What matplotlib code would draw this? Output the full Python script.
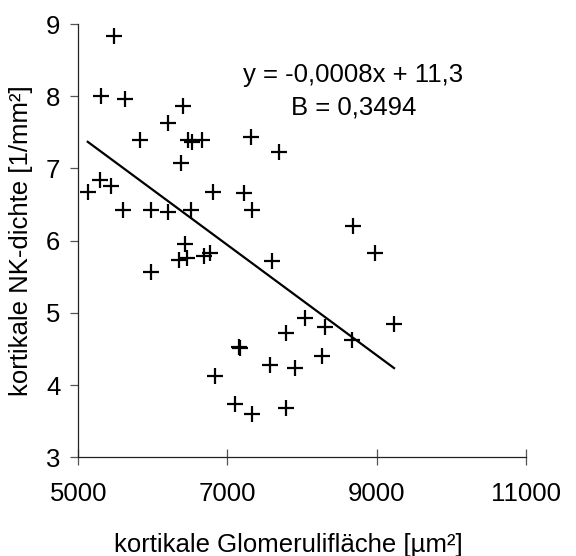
import numpy as np
import matplotlib
matplotlib.use("Agg")
import matplotlib.pyplot as plt

plt.rcParams['font.family'] = ['Liberation Sans', 'DejaVu Sans']

# cortical glomerular area [µm²] vs. cortical NK density [1/mm²]
glom_area = [5480, 5300, 5630, 6400, 6207, 5827, 6475, 6520, 6655, 7316,
             7691, 6373, 5291, 5126, 5434, 6811, 7222, 5604, 5970, 6207,
             6507, 7329, 6431, 6354, 6453, 5970, 6686, 6766, 7593, 8040,
             7785, 7160, 7168, 7571, 7910, 6833, 7101, 7325, 7785, 8688,
             8983, 8308, 8666, 9234, 8272]
nk_density = [8.84, 8.00, 7.96, 7.87, 7.63, 7.39, 7.39, 7.37, 7.39, 7.44,
              7.23, 7.08, 6.84, 6.68, 6.76, 6.68, 6.66, 6.43, 6.43, 6.40,
              6.43, 6.43, 5.96, 5.73, 5.76, 5.56, 5.79, 5.83, 5.72, 4.93,
              4.72, 4.53, 4.51, 4.28, 4.24, 4.13, 3.74, 3.60, 3.68, 6.20,
              5.83, 4.81, 4.63, 4.84, 4.40]

eq_text = "y = -0,0008x + 11,3"
b_text = "B = 0,3494"

x_ticks = [5000, 7000, 9000, 11000]
y_ticks = [3, 4, 5, 6, 7, 8, 9]

FS = 18.5

fig = plt.figure(figsize=(5.76, 5.56), dpi=100)
ax = fig.add_axes([0.136, 0.1775, 0.7767, 0.7793])

x = np.array(glom_area)
y = np.array(nk_density)
ax.plot(x, y, linestyle='', marker='+', markersize=12, markeredgewidth=1.6,
        color='black', clip_on=False)

# linear trend line over the data range
slope, intercept = np.polyfit(x, y, 1)
xl = np.array([x.min(), x.max()])
ax.plot(xl, slope * xl + intercept, color='black', linewidth=1.6)

ax.text(0.615, 0.882, eq_text, transform=ax.transAxes, ha='center',
        va='center', fontsize=FS)
ax.text(0.615, 0.808, b_text, transform=ax.transAxes, ha='center',
        va='center', fontsize=FS)

ax.set_xlim(5000, 11000)
ax.set_ylim(3, 9)
ax.set_xticks(x_ticks)
ax.set_yticks(y_ticks)
for s in ['top', 'right']:
    ax.spines[s].set_visible(False)
for s in ['left', 'bottom']:
    ax.spines[s].set_color('#222222')
    ax.spines[s].set_linewidth(0.9)
ax.tick_params(axis='x', direction='inout', length=12, width=0.9,
               color='#555555', labelsize=FS, pad=12)
ax.tick_params(axis='y', direction='out', length=6, width=0.9,
               color='#555555', labelsize=FS, pad=7)

ax.set_xlabel('kortikale Glomerulifläche [µm²]', fontsize=FS)
ax.set_ylabel('kortikale NK-dichte [1/mm²]', fontsize=FS)
ax.xaxis.set_label_coords(0.47, -0.175)
ax.yaxis.set_label_coords(-0.101, 0.5)

fig.savefig('out.png', dpi=100)
